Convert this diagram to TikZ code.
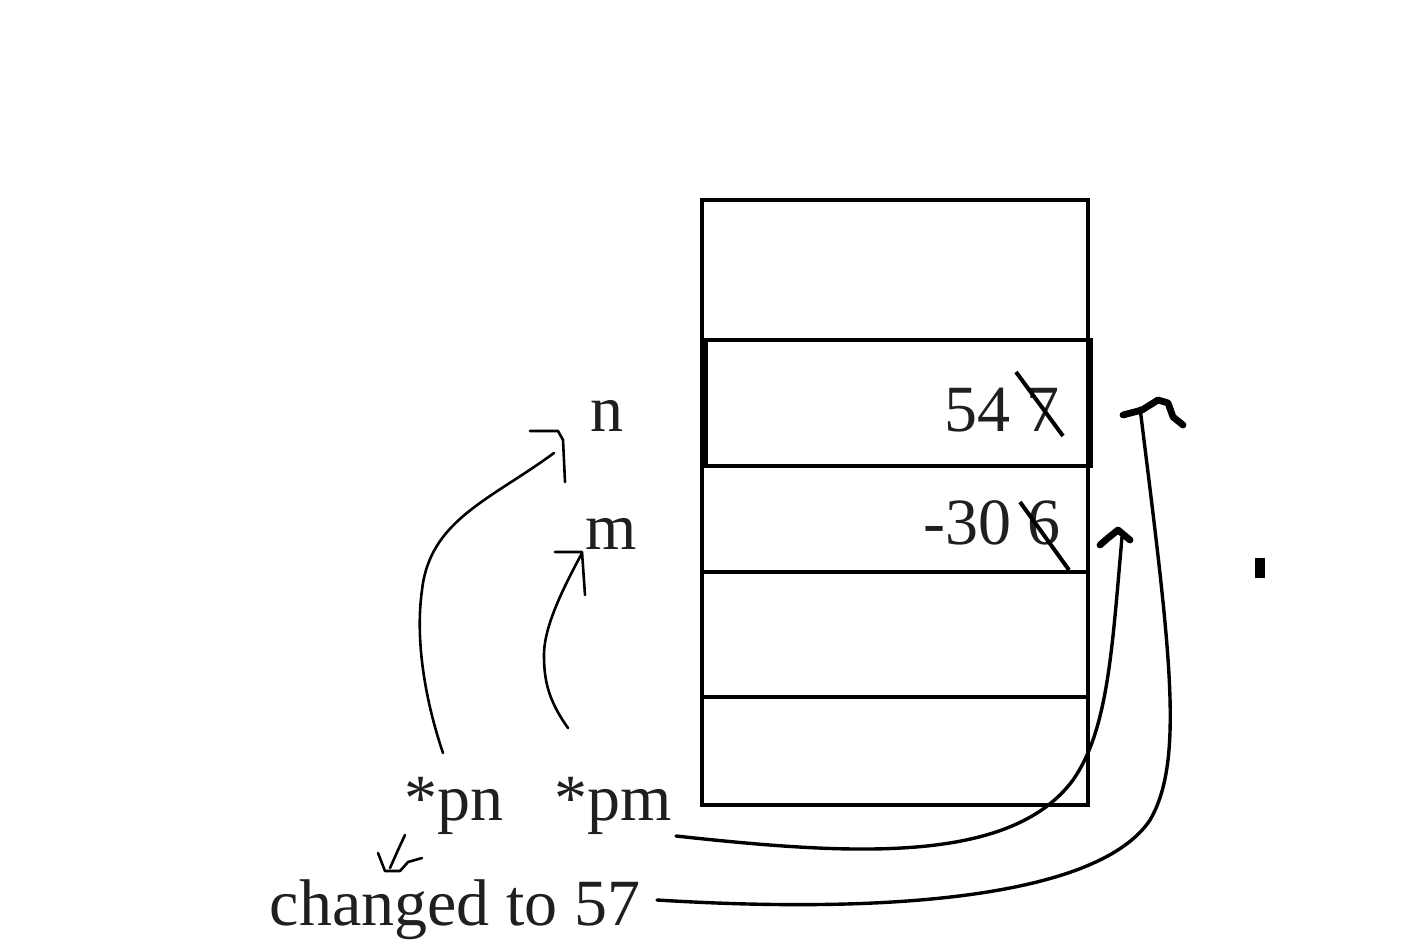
\documentclass[tikz,border=0pt]{standalone}
\usepackage{fontspec}
\setmainfont{Liberation Serif}
\begin{document}
\begin{tikzpicture}[x=0.5pt,y=-0.5pt,
  box/.style={line width=2pt},
  lbl/.style={inner sep=0,font=\fontsize{33}{39}\selectfont,text=black!88},
  hand/.style={line width=1.3pt,line cap=round,line join=round},
  link/.style={line width=1.7pt,line cap=round},
  strike/.style={line width=2pt},
  tipmark/.style={line width=3.4pt,line cap=round,line join=round}]
\useasboundingbox (0,0) rectangle (1417,945);
% memory box
\draw[box] (702,200) rectangle (1088,805);
\draw[box] (706,340) rectangle (1091,466);
\draw[box] (702,572) -- (1088,572);
\draw[box] (702,697) -- (1088,697);
% labels
\node[lbl,anchor=base] (n) at (607,432) {n};
\node[lbl,anchor=base] (m) at (611,550) {m};
\node[lbl,anchor=base east] (v1) at (1060,432) {54 7};
\node[lbl,anchor=base east] (v2) at (1061,545) {-30 6};
\node[lbl,anchor=base] (pn) at (454,820) {*pn};
\node[lbl,anchor=base] (pm) at (613,820) {*pm};
\node[lbl,anchor=base] (ch) at (455,925) {changed to 57};
% strike-throughs
\draw[strike] (1016,372) -- (1063,436);
\draw[strike] (1020,502) -- (1069,570);
% dot
\fill (1255,558) rectangle (1265,578);
% arrow from *pn to n
\coordinate (pnTop) at (443,753);
\coordinate (nHook) at (554,453);
\draw[hand] (pnTop) .. controls (425,700) and (415,640) .. (422,590)
  .. controls (430,520) and (490,500) .. (nHook);
\draw[hand] (530,431) -- (558,431) -- (563,440) -- (565,482);
% arrow from *pm to m
\coordinate (pmTop) at (568,728);
\coordinate (mHook) at (582,553);
\draw[hand] (pmTop) .. controls (548,700) and (544,680) .. (544,655)
  .. controls (544,625) and (565,585) .. (mHook);
\draw[hand] (555,552) -- (582,552) -- (585,595);
% small arrow from *pn to changed
\coordinate (a1) at (405,835);
\coordinate (a2) at (390,868);
\draw[hand] (a1) -- (398,850) -- (a2);
\draw[hand] (378,853) -- (385,871) -- (400,871) -- (408,862) -- (422,858);
% long curves
\coordinate (pmEnd) at (676,836);
\coordinate (tip1) at (1122,537);
\draw[link] (pmEnd) .. controls (850,855) and (1010,865) .. (1073,780)
  .. controls (1108,730) and (1112,650) .. (tip1);
\draw[tipmark] (1100,545) -- (1108,538) -- (1118,530) -- (1130,540);
\coordinate (chEnd) at (657,900);
\coordinate (tip2) at (1140,408);
\draw[link] (chEnd) .. controls (900,915) and (1100,895) .. (1150,820)
  .. controls (1185,760) and (1170,650) .. (tip2);
\draw[tipmark] (1123,415) -- (1142,410) -- (1158,400) -- (1168,403) -- (1173,417) -- (1183,425);
\end{tikzpicture}
\end{document}
